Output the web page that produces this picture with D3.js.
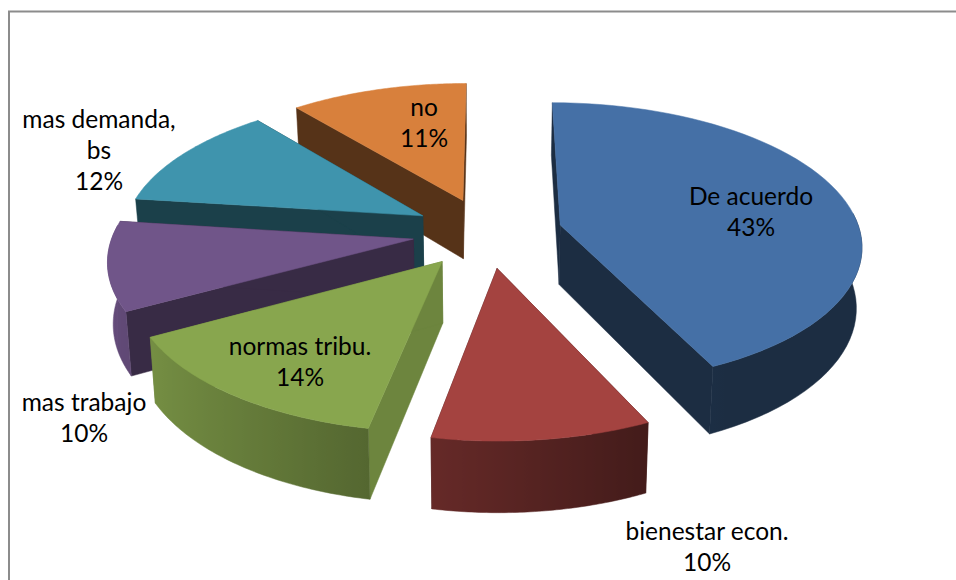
<html>
<head>
<title>pie 3d</title>
<script src="https://d3js.org/d3.v7.min.js"></script>
<style>
html, body { margin: 0; padding: 0; background: #fff; overflow: hidden; }
svg { display: block; }
text { font-family: Lato, 'Open Sans', sans-serif; font-size: 24.5px; fill: #000; text-anchor: middle; }
</style>
</head>
<body>
<div id="plot"></div>
<script>

///////////  data  ///////////
var categories = ["De acuerdo", "bienestar econ.", "normas tribu.", "mas trabajo", "mas demanda, bs", "no"];
var values = [43, 10, 14, 10, 12, 11];

///////////  styles  ///////////
var topColors = ["#4570a6", "#a44340", "#88a64e", "#705589", "#3f94ad", "#d8803c"];
var cutShade = [0.6, 0.6, 0.2, 0.5, 0.57, 0.6];
var labelLines = [["De acuerdo", "43%"], ["bienestar econ.", "10%"], ["normas tribu.", "14%"],
                  ["mas trabajo", "10%"], ["mas demanda,", "bs", "12%"], ["no", "11%"]];
var labelAt = [[751, 205], [707, 540], [300, 355], [84, 411], [99, 128], [424, 116]];

///////////  layout  ///////////
var width = 956, height = 580;
var cx = 487.5, cy = 232.5;
var Rx = 300, Ry = 140;   // radius of the pie on the page
var persp = 0.13;         // how much the front of the pie grows
var explode = 0.25;       // slice offset, in radii
var depth = 60;
var startDeg = 0.1;

var svg = d3.select("#plot").append("svg").attr("width", width).attr("height", height);
var defs = svg.append("defs");

// frame: only left and top edges are inside the picture
svg.append("path").attr("d", "M9,580V11.5H956").attr("fill", "none")
  .attr("stroke", "#8c8c8c").attr("stroke-width", 2);

var a0 = startDeg * Math.PI / 180;
var arcs = d3.pie().sort(null).startAngle(a0).endAngle(a0 + 2 * Math.PI)(values);

// plane coords -> page, u to the right and v toward the viewer
function project(u, v) {
  var s = 1 / (1 - persp * v);
  return [cx + Rx * u * s, cy + Ry * v * s];
}
function lower(u, v) {
  var s = 1 / (1 - persp * v);
  var p = project(u, v);
  return [cx + (p[0] - cx) * 0.985, p[1] + depth * s];
}

var shade = d3.scaleLinear().domain([-1, 0.45]).range([0.1, 0.6]).clamp(true);
var poly = d3.line();

// back slices first
var order = d3.range(arcs.length).sort(function(a, b) {
  var ma = (arcs[a].startAngle + arcs[a].endAngle) / 2, mb = (arcs[b].startAngle + arcs[b].endAngle) / 2;
  return d3.descending(Math.cos(ma), Math.cos(mb));
});

order.forEach(function(i) {
  var d = arcs[i];
  var mid = (d.startAngle + d.endAngle) / 2;
  var ou = explode * Math.sin(mid), ov = -explode * Math.cos(mid);
  var g = svg.append("g").attr("class", "slice");
  var color = topColors[i];
  var dark = d3.interpolateRgb(color, "#000");

  var steps = d3.range(0, 61).map(function(k) { return d.startAngle + (d.endAngle - d.startAngle) * k / 60; });
  var rim = steps.map(function(a) { return [ou + Math.sin(a), ov - Math.cos(a)]; });
  var first = rim[0], last = rim[rim.length - 1];

  // the two cut walls
  var cutColor = dark(cutShade[i]);
  [first, last].forEach(function(c) {
    var pts = [project(ou, ov), project(c[0], c[1]), lower(c[0], c[1]), lower(ou, ov)];
    g.append("path").attr("d", poly(pts) + "Z").attr("fill", cutColor).attr("stroke", cutColor).attr("stroke-width", 0.5);
  });

  // curved wall, only the part that faces the viewer
  var front = rim.filter(function(r, k) { return -Math.cos(steps[k]) > -0.1; });
  if (front.length > 1) {
    var up = front.map(function(r) { return project(r[0], r[1]); });
    var down = front.map(function(r) { return lower(r[0], r[1]); }).reverse();
    var x0 = d3.min(up, function(p) { return p[0]; }), x1 = d3.max(up, function(p) { return p[0]; });
    var grad = defs.append("linearGradient").attr("id", "wall" + i).attr("gradientUnits", "userSpaceOnUse")
      .attr("x1", x0).attr("x2", x1).attr("y1", 0).attr("y2", 0);
    front.map(function(r, k) { return { x: up[k][0], c: dark(shade(r[0] - ou)) }; })
      .sort(function(a, b) { return d3.ascending(a.x, b.x); })
      .forEach(function(st) {
        grad.append("stop").attr("offset", (st.x - x0) / (x1 - x0)).attr("stop-color", st.c);
      });
    g.append("path").attr("d", poly(up.concat(down)) + "Z").attr("fill", "url(#wall" + i + ")")
      .attr("stroke", "url(#wall" + i + ")").attr("stroke-width", 0.5);
  }

  // top face
  var face = [project(ou, ov)].concat(rim.map(function(r) { return project(r[0], r[1]); }));
  g.append("path").attr("d", poly(face) + "Z").attr("fill", color).attr("stroke", color).attr("stroke-width", 0.5);
});

// labels
categories.forEach(function(name, i) {
  var t = svg.append("text").attr("class", "label").attr("data-name", name)
    .attr("transform", "translate(" + labelAt[i][0] + "," + labelAt[i][1] + ")");
  labelLines[i].forEach(function(line, j) {
    t.append("tspan").attr("x", 0).attr("y", j * 31).text(line);
  });
});

</script>
</body>
</html>
